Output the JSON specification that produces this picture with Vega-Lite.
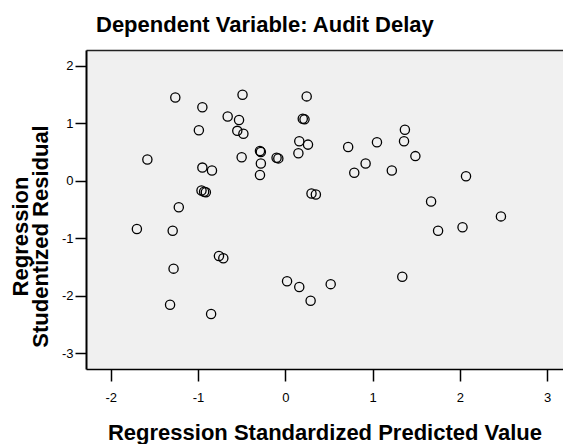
{
  "$schema": "https://vega.github.io/schema/vega-lite/v6.json",
  "width": 477,
  "height": 319,
  "autosize": "none",
  "padding": {"left": 86, "top": 50, "right": 0, "bottom": 75},
  "background": "white",
  "title": {"text": "Dependent Variable: Audit Delay", "anchor": "start", "frame": "group", "dx": 10, "fontSize": 22, "font": "Liberation Sans", "fontWeight": "bold", "color": "black", "offset": 13},
  "config": {"view": {"fill": "#f0f0f0", "stroke": null}, "font": "Liberation Sans"},
  "data": {"values": [
    {"pred": -1.58, "resid": 0.37}, {"pred": -1.26, "resid": 1.45}, {"pred": -0.95, "resid": 1.28},
    {"pred": -0.99, "resid": 0.88}, {"pred": -0.95, "resid": 0.23}, {"pred": -0.84, "resid": 0.18},
    {"pred": -0.96, "resid": -0.17}, {"pred": -0.93, "resid": -0.19}, {"pred": -0.91, "resid": -0.20},
    {"pred": -1.22, "resid": -0.46}, {"pred": -0.66, "resid": 1.12}, {"pred": -0.53, "resid": 1.06},
    {"pred": -0.49, "resid": 1.50}, {"pred": -0.55, "resid": 0.87}, {"pred": -0.48, "resid": 0.82},
    {"pred": -0.50, "resid": 0.41}, {"pred": -0.29, "resid": 0.52}, {"pred": -0.28, "resid": 0.50},
    {"pred": -0.28, "resid": 0.30}, {"pred": -0.29, "resid": 0.10}, {"pred": -0.10, "resid": 0.40},
    {"pred": -0.08, "resid": 0.39}, {"pred": 0.245, "resid": 1.47}, {"pred": 0.20, "resid": 1.08},
    {"pred": 0.22, "resid": 1.07}, {"pred": 0.16, "resid": 0.69}, {"pred": 0.26, "resid": 0.63},
    {"pred": 0.15, "resid": 0.48}, {"pred": 0.30, "resid": -0.22}, {"pred": 0.35, "resid": -0.24},
    {"pred": 0.72, "resid": 0.59}, {"pred": 0.79, "resid": 0.14}, {"pred": 0.92, "resid": 0.30},
    {"pred": 1.05, "resid": 0.67}, {"pred": 1.22, "resid": 0.18}, {"pred": 1.37, "resid": 0.89},
    {"pred": 1.36, "resid": 0.69}, {"pred": 1.49, "resid": 0.43}, {"pred": 1.67, "resid": -0.36},
    {"pred": 2.07, "resid": 0.08}, {"pred": 2.47, "resid": -0.62}, {"pred": -1.70, "resid": -0.84},
    {"pred": -1.29, "resid": -0.87}, {"pred": -1.28, "resid": -1.53}, {"pred": -1.32, "resid": -2.16},
    {"pred": -0.85, "resid": -2.32}, {"pred": -0.76, "resid": -1.31}, {"pred": -0.71, "resid": -1.35},
    {"pred": 0.02, "resid": -1.75}, {"pred": 0.16, "resid": -1.85}, {"pred": 0.29, "resid": -2.09},
    {"pred": 0.52, "resid": -1.80}, {"pred": 1.34, "resid": -1.67}, {"pred": 1.75, "resid": -0.87},
    {"pred": 2.03, "resid": -0.81}
  ]},
  "layer": [
    {
      "mark": {"type": "point", "shape": "circle", "filled": false, "stroke": "black", "strokeWidth": 1.3, "size": 85, "opacity": 1},
      "encoding": {
        "x": {"field": "pred", "type": "quantitative",
          "scale": {"domain": [-2.283, 3.181], "nice": false, "zero": false},
          "axis": {"values": [-2, -1, 0, 1, 2, 3], "labelExpr": "'' + datum.value", "grid": false, "tickSize": 12, "tickColor": "black", "tickWidth": 1.5,
            "domainColor": "black", "domainWidth": 1.5, "labelFontSize": 13, "labelColor": "black", "labelPadding": 10,
            "labelFlush": false, "title": "Regression Standardized Predicted Value", "titleFontSize": 22,
            "titleFontWeight": "bold", "titleColor": "black", "titlePadding": 18}},
        "y": {"field": "resid", "type": "quantitative",
          "scale": {"domain": [-3.278, 2.278], "nice": false, "zero": false},
          "axis": {"values": [-3, -2, -1, 0, 1, 2], "labelExpr": "'' + datum.value", "grid": false, "tickSize": 11, "tickColor": "black", "tickWidth": 1.5,
            "domainColor": "black", "domainWidth": 2, "labelFontSize": 13, "labelColor": "black", "labelPadding": 2,
            "title": ["Regression", "Studentized Residual"], "titleFontSize": 22, "titleFontWeight": "bold",
            "titleColor": "black", "titleLineHeight": 20, "titlePadding": 9, "titleY": 186}}
      }
    },
    {
      "mark": {"type": "point", "opacity": 0},
      "encoding": {
        "x": {"field": "pred", "type": "quantitative",
          "axis": {"orient": "top", "labels": false, "ticks": false, "title": null, "grid": false,
            "domainColor": "#222222", "domainWidth": 1.5}}
      }
    }
  ],
  "resolve": {"axis": {"x": "independent"}}
}
